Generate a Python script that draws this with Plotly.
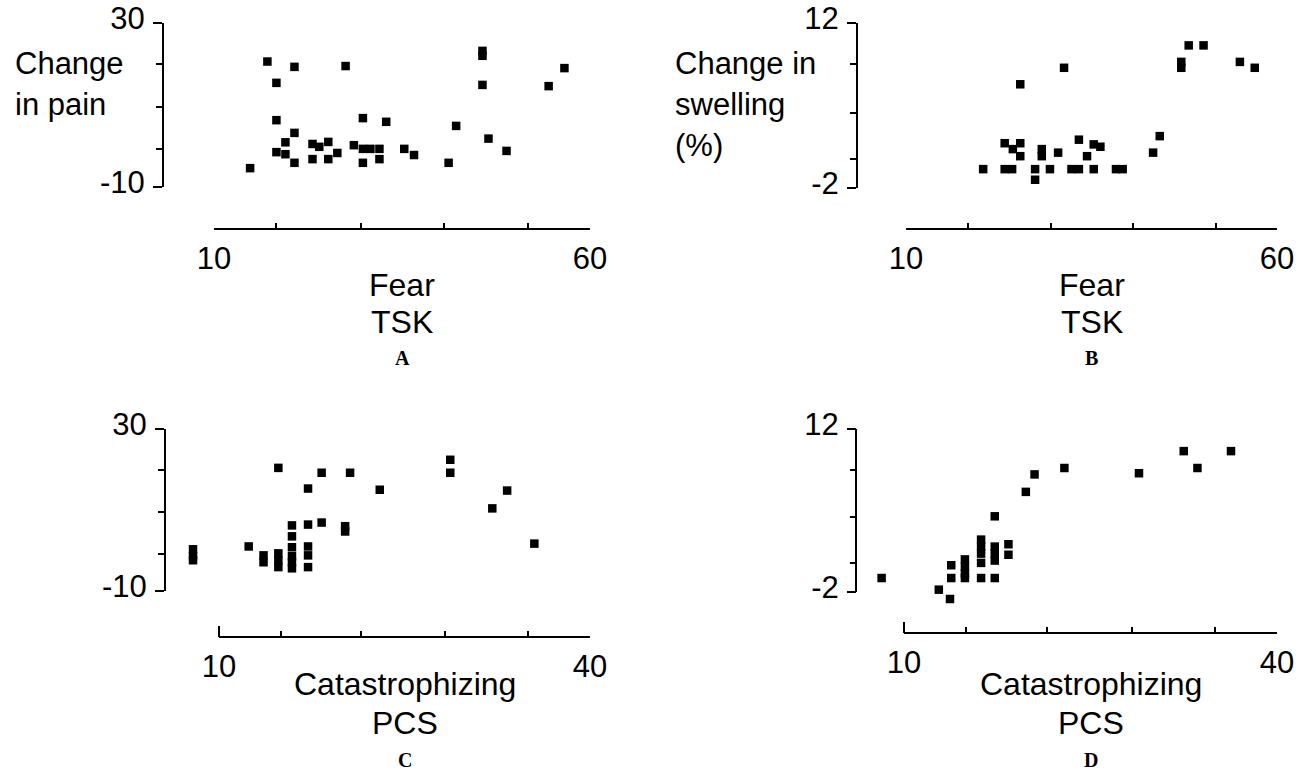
import plotly.graph_objects as go

W, H = 1303, 774
FONT = "Liberation Sans, Arial, sans-serif"

# ---------------- data ----------------
a_x = [14.8, 17.1, 18.3, 18.3, 18.3, 19.5, 19.5, 20.7, 20.7, 20.7, 23.1, 23.1, 24.0, 25.2, 25.2, 26.4,
       27.5, 28.6, 29.8, 29.8, 29.8, 30.8, 32.0, 32.0, 32.9, 35.3, 36.6, 41.2, 42.2, 45.7, 45.7, 45.7,
       46.5, 48.9, 54.5, 56.6]
a_y = [-5.4, 20.6, 15.4, 6.3, -1.5, 0.9, -2.0, 19.3, 3.2, -4.1, 0.5, -3.2, -0.2, 1.0, -3.2, -1.7,
       19.5, 0.2, 6.8, -0.7, -4.1, -0.7, -0.7, -3.2, 5.9, -0.7, -2.2, -4.1, 4.9, 23.2, 22.0, 14.9,
       1.8, -1.2, 14.6, 19.0]

b_x = [20.4, 23.3, 23.3, 24.3, 24.4, 25.4, 25.4, 25.4, 27.4, 27.4, 28.3, 28.3, 29.4, 30.5, 31.3, 32.3,
       33.3, 33.3, 34.4, 35.3, 35.3, 36.2, 38.3, 39.2, 43.3, 44.2, 47.1, 47.1, 48.1, 50.1, 55.0, 57.0]
b_y = [-0.4, 1.8, -0.4, -0.4, 1.3, 1.8, 6.8, 0.7, -0.4, -1.3, 1.3, 0.7, -0.4, 1.0, 8.2, -0.4,
       2.1, -0.4, 0.7, 1.7, -0.4, 1.5, -0.4, -0.4, 1.0, 2.4, 8.7, 8.2, 10.1, 10.1, 8.7, 8.2]

c_x = [7.9, 7.9, 7.9, 12.4, 13.6, 13.6, 14.8, 14.8, 14.8, 14.8, 15.9, 15.9, 15.9, 15.9, 15.9, 15.9,
       17.2, 17.2, 17.2, 17.2, 17.2, 18.3, 18.3, 20.2, 20.2, 20.6, 23.0, 28.7, 28.7, 32.1, 33.3, 35.5]
c_y = [0.3, -1.4, -2.4, 1.0, -1.2, -2.9, 20.4, -0.7, -2.4, -4.1, 6.2, 3.5, 0.8, -1.4, -2.9, -4.4,
       15.3, 6.4, 1.0, -1.2, -4.1, 19.2, 6.9, 6.0, 4.7, 19.2, 15.0, 22.4, 19.2, 10.4, 14.8, 1.7]

d_x = [8.2, 12.8, 13.7, 13.8, 13.8, 14.9, 14.9, 14.9, 14.9, 16.2, 16.2, 16.2, 16.2, 16.2, 17.3, 17.3,
       17.3, 17.3, 17.3, 18.4, 18.4, 19.8, 20.5, 22.9, 28.9, 32.5, 33.6, 36.3]
d_y = [-0.8, -1.8, -2.6, 0.3, -0.8, 0.8, 0.2, -0.4, -0.8, 2.5, 1.9, 1.3, 0.5, -0.8, 4.5, 1.9,
       1.3, 0.7, -0.8, 2.1, 1.2, 6.6, 8.1, 8.65, 8.2, 10.1, 8.65, 10.1]

# tick labels / tick values
pain_ticks = [-10, 30]
swell_ticks = [-2, 12]
tsk_ticks = [10, 60]
pcs_ticks = [10, 40]
pain_minor = [20, 9.5, -0.8]
swell_minor = [8.5, 4.4, 0.5]
tsk_minor = [18.3, 29.5, 40.6, 51.8]
pcs_minor = [15.0, 21.5, 28.3, 35.0]

x_titles = [["Fear", "TSK"], ["Fear", "TSK"], ["Catastrophizing", "PCS"], ["Catastrophizing", "PCS"]]
y_titles = [["Change", "in pain"], ["Change in", "swelling", "(%)"], [], []]
letters = ["A", "B", "C", "D"]

# ---------------- layout geometry (pixels) ----------------
def fx(px):
    return px / W

def fy(py):
    return 1 - py / H

panels = [
    dict(x=a_x, y=a_y, xt=tsk_ticks, xpx=(214, 590), yt=pain_ticks, ypx=(187, 23),
         xr=[10, 60], yr=[-10, 30], yax=163, xay=229, xmin=tsk_minor, ymin=pain_minor),
    dict(x=b_x, y=b_y, xt=tsk_ticks, xpx=(906, 1277), yt=swell_ticks, ypx=(188, 23),
         xr=[10, 60], yr=[-2, 12], yax=857, xay=229, xmin=tsk_minor, ymin=swell_minor),
    dict(x=c_x, y=c_y, xt=pcs_ticks, xpx=(219, 590), yt=pain_ticks, ypx=(591, 429),
         xr=[7, 40], yr=[-10, 30], yax=165, xay=637, xmin=pcs_minor, ymin=pain_minor),
    dict(x=d_x, y=d_y, xt=pcs_ticks, xpx=(904, 1277), yt=swell_ticks, ypx=(592, 429),
         xr=[7, 40], yr=[-3.5, 12], yax=856, xay=633, xmin=pcs_minor, ymin=swell_minor),
]

title_rows = [(285, 322, 358), (285, 322, 358), (684, 723, 760), (684, 723, 760)]
ytitle_pos = [(13, [63.5, 104.5]), (673, [64, 104.5, 146]), None, None]

fig = go.Figure()
layout = dict(width=W, height=H, autosize=False,
              margin=dict(l=0, r=0, t=0, b=0, pad=0, autoexpand=False),
              paper_bgcolor="white", plot_bgcolor="rgba(0,0,0,0)", showlegend=False)
shapes = []
annotations = []

for i, p in enumerate(panels):
    n = "" if i == 0 else str(i + 1)
    (xv0, xv1), (xp0, xp1) = p["xt"], p["xpx"]
    sx = (xp1 - xp0) / (xv1 - xv0)
    dx0 = xp0 + (p["xr"][0] - xv0) * sx
    dx1 = xp0 + (p["xr"][1] - xv0) * sx
    (yv0, yv1), (yp0, yp1) = p["yt"], p["ypx"]
    sy = (yp1 - yp0) / (yv1 - yv0)
    dy0 = yp0 + (p["yr"][0] - yv0) * sy
    dy1 = yp0 + (p["yr"][1] - yv0) * sy
    # does the data range match the labelled extent? if not, a separate line axis is used
    exact = (p["yr"][0] == yv0 and p["yr"][1] == yv1)

    fig.add_trace(go.Scatter(x=p["x"], y=p["y"], mode="markers",
                             marker=dict(symbol="square", size=8.5, color="black", line=dict(width=0)),
                             xaxis="x" + n, yaxis="y" + n, hoverinfo="skip", cliponaxis=False))

    layout["xaxis" + n] = dict(
        domain=[fx(dx0), fx(dx1)], range=p["xr"], anchor="free", position=fy(p["xay"]),
        showline=False, showgrid=False, zeroline=False, automargin=False,
        tickmode="array", tickvals=p["xt"], ticktext=[str(v) for v in p["xt"]],
        ticks="inside", ticklen=11, tickwidth=2, tickcolor="black",
        minor=dict(tickmode="array", tickvals=p["xmin"], ticks="inside", ticklen=6,
                   tickwidth=1.5, tickcolor="black", showgrid=False),
        tickfont=dict(family=FONT, size=31, color="black"), ticklabelstandoff=8,
    )
    layout["yaxis" + n] = dict(
        domain=[fy(dy0), fy(dy1)], range=p["yr"], anchor="free", position=fx(p["yax"]),
        showline=exact, linewidth=2, linecolor="black",
        showgrid=False, zeroline=False, automargin=False,
        tickmode="array", tickvals=p["yt"], ticktext=[str(v) for v in p["yt"]],
        ticks="outside", ticklen=9, tickwidth=2, tickcolor="black",
        minor=dict(tickmode="array", tickvals=p["ymin"], ticks="outside", ticklen=6,
                   tickwidth=2, tickcolor="black", showgrid=False),
        tickfont=dict(family=FONT, size=31, color="black"), ticklabelshift=-5,
        ticklabelstandoff=2,
    )
    if not exact:
        # axis line limited to the labelled extent (yv0..yv1)
        layout["yaxis5"] = dict(
            domain=[fy(yp0), fy(yp1)], range=[yv0, yv1], anchor="free", position=fx(p["yax"]),
            showline=True, linewidth=2, linecolor="black", showgrid=False, zeroline=False,
            showticklabels=False, ticks="", automargin=False)
        fig.add_trace(go.Scatter(x=[], y=[], mode="markers", xaxis="x" + n, yaxis="y5",
                                 hoverinfo="skip", showlegend=False))

    shapes.append(dict(type="line", xref="x" + n, yref="paper",
                       x0=p["xt"][0], x1=p["xt"][1], y0=fy(p["xay"]), y1=fy(p["xay"]),
                       line=dict(color="black", width=2)))

    xc = (p["xt"][0] + p["xt"][1]) / 2
    r1, r2, r3 = title_rows[i]
    for txt, yy in zip(x_titles[i], (r1, r2)):
        annotations.append(dict(text=txt, xref="x" + n, yref="paper", x=xc, y=fy(yy),
                                xanchor="center", yanchor="middle", showarrow=False,
                                font=dict(family=FONT, size=32, color="black")))
    annotations.append(dict(text="<b>" + letters[i] + "</b>", xref="x" + n, yref="paper", x=xc,
                            y=fy(r3), xanchor="center", yanchor="middle", showarrow=False,
                            font=dict(family="Liberation Serif, Times New Roman, serif",
                                      size=20, color="black")))
    if ytitle_pos[i]:
        left, rows = ytitle_pos[i]
        for txt, yy in zip(y_titles[i], rows):
            annotations.append(dict(text=txt, xref="paper", yref="paper", x=fx(left), y=fy(yy),
                                    xanchor="left", yanchor="middle", showarrow=False,
                                    font=dict(family=FONT, size=31, color="black")))

layout["shapes"] = shapes
layout["annotations"] = annotations
fig.update_layout(**layout)
fig.write_html("out.html", config={"responsive": False, "displayModeBar": False},
               post_script="document.body.style.margin='0';document.body.style.overflow='hidden';")
